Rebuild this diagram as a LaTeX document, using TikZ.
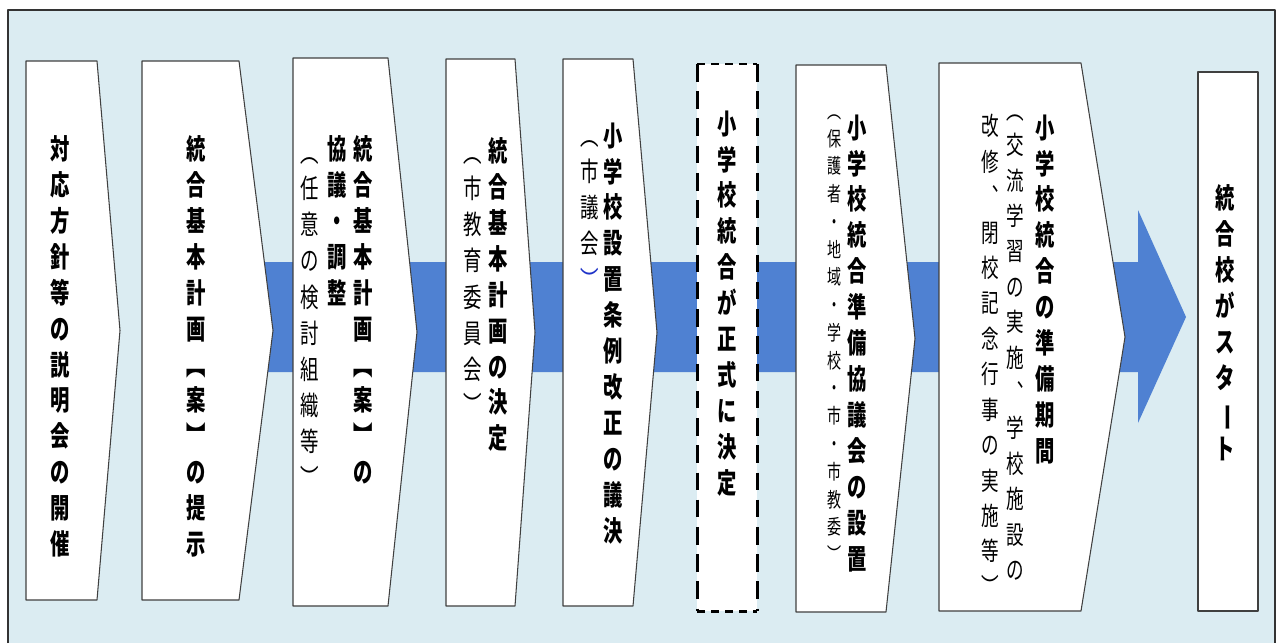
\documentclass[tikz,border=0pt]{standalone}
\usepackage{fontspec}
\newfontfamily\jp{Noto Sans CJK JP}
\definecolor{framebg}{RGB}{219,236,242}
\definecolor{bandblue}{RGB}{79,129,210}
\definecolor{parenblue}{RGB}{30,50,200}
\makeatletter
\newcommand\vstack[1]{\@tfor\vch:=#1\do{\vch\\}}
\makeatother
\tikzset{
  stepbox/.style={draw=black!75,fill=white,line width=0.6pt},
  vcol/.style={anchor=north,inner sep=0pt,align=center,yscale=1.45},
  boldcol/.style={vcol,font=\jp\bfseries\fontsize{11pt}{14.1pt}\selectfont},
  lightcol/.style={vcol,font=\jp\fontsize{10.5pt}{14.2pt}\selectfont},
  midcol/.style={vcol,font=\jp\fontsize{10pt}{13.9pt}\selectfont},
  smallcol/.style={vcol,font=\jp\fontsize{8pt}{10.9pt}\selectfont}
}
\begin{document}
\begin{tikzpicture}[x=0.02cm,y=-0.02cm,line join=round]
\useasboundingbox (0,0) rectangle (1281,643);
% frame
\fill[framebg] (8,10) rectangle (1275,643);
\draw[black!80,line width=1pt] (8,643) -- (8,10) -- (1275,10) -- (1275,643);
% blue band with arrow head
\fill[bandblue] (143,262) -- (1138,262) -- (1138,210) -- (1186,317) -- (1138,423) -- (1138,372) -- (143,372) -- cycle;
% chevron steps
\foreach \l/\r/\p/\t/\b in {26/97/120/61/600,142/239/273/61/600,293/388/417/58/606,446/515/535/59/606,563/633/657/59/606,796/886/915/65/612,939/1081/1125/63/611}
  \draw[stepbox] (\l,\t) -- (\r,\t) -- (\p,{(\t+\b)/2}) -- (\r,\b) -- (\l,\b) -- cycle;
% decided (dashed) and start boxes
\fill[white] (697,64) rectangle (757,611);
\draw[black,line width=1.7pt,dash pattern=on 4.6pt off 3.4pt] (697,64) -- (757,64) (697,611) -- (757,611);
\draw[black,line width=1.7pt,dash pattern=on 10pt off 5.5pt] (697,64) -- (697,611) (757,64) -- (757,611);
\draw[stepbox] (1198,72) rectangle (1258,611);
% texts, one node per column
\node[boldcol] (c1) at (60,135) {\vstack{対応方針等の説明会の開催}};
\node[boldcol] (c2) at (196,135) {\vstack{統合基本計画︻案︼の提示}};
\node[boldcol] (c3a) at (363,135) {\vstack{統合基本計画︻案︼の}};
\node[boldcol] (c3b) at (337,135) {\vstack{協議・調整}};
\node[lightcol] (c3c) at (310,157) {\vstack{︵任意の検討組織等︶}};
\node[boldcol] (c4a) at (498,137) {\vstack{統合基本計画の決定}};
\node[lightcol] (c4b) at (473,157) {\vstack{︵市教育委員会︶}};
\node[boldcol] (c5a) at (613,122) {\vstack{小学校設置条例改正の議決}};
\node[lightcol] (c5b) at (590,140) {\vstack{︵市議会{\color{parenblue}︶}}};
\node[boldcol] (c6) at (727,110) {\vstack{小学校統合が正式に決定}};
\node[boldcol] (c7a) at (857,114) {\vstack{小学校統合準備協議会の設置}};
\node[smallcol] (c7b) at (835,114) {\vstack{︵保護者・地域・学校・市・市教委︶}};
\node[boldcol] (c8a) at (1045,114) {\vstack{小学校統合の準備期間}};
\node[midcol] (c8b) at (1015,114) {\vstack{︵交流学習の実施︑学校施設の}};
\node[midcol] (c8c) at (990,114) {\vstack{改修︑閉校記念行事の実施等︶}};
\node[boldcol] (c9) at (1225,184) {\vstack{統合校がスタ{\rotatebox[origin=c]{-90}{ー}}ト}};
\end{tikzpicture}
\end{document}
